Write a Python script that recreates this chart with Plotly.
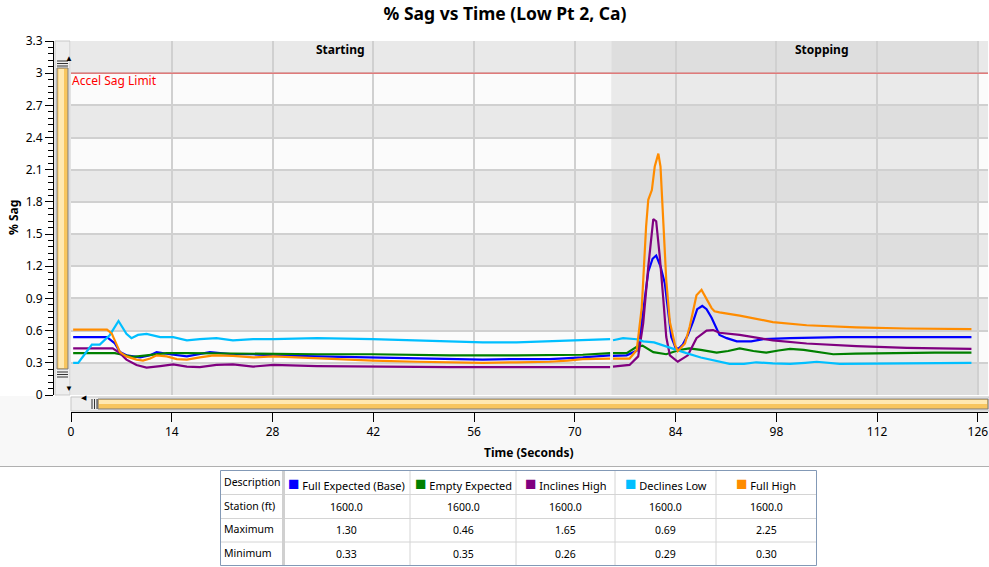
import plotly.graph_objects as go

# ---------------- data ----------------
series_names = ["Full Expected (Base)", "Empty Expected", "Inclines High", "Declines Low", "Full High"]
series_colors = ["#0000ff", "#008000", "#800080", "#00bfff", "#ff8c00"]

full_exp_start_t = [0.3, 5.0, 6.1, 6.8, 7.7, 9.6, 11.0, 11.9, 13.75, 16.1, 19.3, 22.5, 25.3, 28.1, 34.2, 41.9, 48.1, 52.6, 57.2, 61.9, 66.5, 71.1, 73.5, 74.9]
full_exp_start_v = [0.54, 0.54, 0.48, 0.40, 0.37, 0.35, 0.37, 0.40, 0.38, 0.36, 0.40, 0.38, 0.38, 0.37, 0.36, 0.35, 0.345, 0.335, 0.33, 0.335, 0.335, 0.35, 0.36, 0.37]
full_exp_stop_t = [75.3, 77.2, 78.8, 79.5, 80.2, 80.8, 81.3, 81.9, 82.5, 83.0, 83.4, 84.0, 84.4, 85.0, 85.7, 86.4, 87.0, 87.7, 88.3, 89.0, 89.7, 90.1, 91.1, 92.5, 94.5, 96.2, 99.9, 106.8, 116.0, 125.1]
full_exp_stop_v = [0.365, 0.37, 0.42, 0.80, 1.15, 1.27, 1.30, 1.20, 1.04, 0.76, 0.54, 0.44, 0.43, 0.47, 0.56, 0.68, 0.80, 0.83, 0.80, 0.72, 0.62, 0.56, 0.53, 0.50, 0.50, 0.52, 0.53, 0.54, 0.54, 0.54]

empty_exp_start_t = [0.3, 6.1, 6.8, 8.6, 10.5, 13.3, 16.0, 22.0, 28.1, 34.2, 41.9, 52.6, 61.9, 71.1, 74.9]
empty_exp_start_v = [0.39, 0.39, 0.38, 0.355, 0.37, 0.39, 0.39, 0.385, 0.38, 0.38, 0.38, 0.37, 0.37, 0.375, 0.39]
empty_exp_stop_t = [75.3, 77.2, 78.6, 79.4, 80.9, 82.7, 84.5, 85.9, 87.5, 89.7, 91.3, 92.9, 94.8, 96.6, 98.3, 99.9, 101.8, 103.6, 105.9, 109.0, 113.75, 120.0, 125.1]
empty_exp_stop_v = [0.39, 0.39, 0.45, 0.46, 0.40, 0.38, 0.42, 0.435, 0.42, 0.395, 0.41, 0.435, 0.41, 0.395, 0.415, 0.43, 0.42, 0.405, 0.38, 0.385, 0.39, 0.395, 0.395]

incl_high_start_t = [0.3, 5.8, 6.8, 7.7, 9.1, 10.5, 12.4, 14.2, 16.1, 17.9, 20.2, 22.5, 25.3, 28.1, 34.2, 41.9, 52.6, 61.9, 71.1, 74.9]
incl_high_start_v = [0.435, 0.435, 0.39, 0.33, 0.28, 0.255, 0.27, 0.285, 0.265, 0.26, 0.28, 0.285, 0.265, 0.28, 0.27, 0.265, 0.26, 0.26, 0.26, 0.26]
incl_high_stop_t = [75.3, 77.6, 78.8, 79.5, 80.2, 80.9, 81.3, 81.8, 82.3, 82.7, 83.2, 84.3, 85.7, 86.9, 88.3, 89.2, 90.1, 92.9, 97.5, 102.2, 109.1, 116.1, 125.1]
incl_high_stop_v = [0.265, 0.28, 0.36, 0.67, 1.195, 1.64, 1.62, 1.29, 0.885, 0.54, 0.37, 0.31, 0.37, 0.53, 0.60, 0.605, 0.58, 0.56, 0.51, 0.48, 0.455, 0.44, 0.43]

decl_low_start_t = [0.3, 1.0, 1.9, 2.9, 4.0, 5.4, 6.6, 7.0, 7.7, 8.4, 9.3, 10.5, 12.4, 14.2, 16.1, 17.9, 20.2, 22.5, 25.3, 28.1, 34.2, 41.9, 47.0, 52.6, 57.2, 61.9, 66.5, 71.1, 74.9]
decl_low_start_v = [0.30, 0.30, 0.38, 0.47, 0.47, 0.56, 0.69, 0.65, 0.57, 0.53, 0.56, 0.57, 0.54, 0.54, 0.51, 0.52, 0.53, 0.51, 0.52, 0.52, 0.53, 0.52, 0.51, 0.50, 0.49, 0.49, 0.50, 0.51, 0.52]
decl_low_stop_t = [75.3, 76.7, 78.6, 79.5, 81.0, 82.7, 85.5, 87.5, 90.1, 91.5, 93.5, 95.2, 97.5, 99.9, 102.0, 103.6, 106.8, 113.75, 125.1]
decl_low_stop_v = [0.51, 0.53, 0.52, 0.50, 0.49, 0.45, 0.39, 0.35, 0.31, 0.29, 0.29, 0.305, 0.295, 0.29, 0.30, 0.31, 0.29, 0.295, 0.30]

full_high_start_t = [0.3, 5.0, 5.65, 6.1, 6.8, 7.7, 9.1, 10.0, 11.0, 11.9, 13.3, 14.7, 16.1, 17.9, 19.8, 22.5, 25.3, 28.1, 34.2, 41.9, 48.1, 52.6, 57.2, 61.9, 66.5, 69.0, 71.1, 74.9]
full_high_start_v = [0.61, 0.61, 0.575, 0.50, 0.40, 0.36, 0.33, 0.32, 0.34, 0.37, 0.36, 0.335, 0.33, 0.35, 0.37, 0.365, 0.35, 0.36, 0.34, 0.32, 0.31, 0.305, 0.30, 0.305, 0.31, 0.32, 0.335, 0.34]
full_high_stop_t = [75.3, 77.6, 78.6, 79.3, 79.9, 80.2, 80.7, 81.1, 81.6, 81.9, 82.3, 82.7, 83.2, 83.9, 84.3, 85.3, 85.97, 86.9, 87.6, 88.3, 89.0, 89.4, 90.1, 92.9, 97.5, 102.2, 109.1, 116.1, 125.1]
full_high_stop_v = [0.34, 0.34, 0.42, 0.82, 1.57, 1.82, 1.91, 2.13, 2.25, 2.13, 1.60, 1.07, 0.68, 0.47, 0.41, 0.48, 0.64, 0.93, 0.98, 0.90, 0.81, 0.78, 0.77, 0.74, 0.68, 0.65, 0.63, 0.62, 0.615]

series_t = [
    full_exp_start_t + [None] + full_exp_stop_t,
    empty_exp_start_t + [None] + empty_exp_stop_t,
    incl_high_start_t + [None] + incl_high_stop_t,
    decl_low_start_t + [None] + decl_low_stop_t,
    full_high_start_t + [None] + full_high_stop_t,
]
series_v = [
    full_exp_start_v + [None] + full_exp_stop_v,
    empty_exp_start_v + [None] + empty_exp_stop_v,
    incl_high_start_v + [None] + incl_high_stop_v,
    decl_low_start_v + [None] + decl_low_stop_v,
    full_high_start_v + [None] + full_high_stop_v,
]

phase_names = ["Starting", "Stopping"]
phase_start = [0.0, 75.1]
phase_end = [75.1, 126.0]
phase_label_t = [37.5, 104.2]

accel_sag_limit = 3.0
x_ticks = [0, 14, 28, 42, 56, 70, 84, 98, 112, 126]
y_band_step = 0.3
y_max = 3.3
x_max = 127.4

table_rows = ["Station (ft)", "Maximum", "Minimum"]
stations = [1600.0, 1600.0, 1600.0, 1600.0, 1600.0]
maxima = [1.30, 0.46, 1.65, 0.69, 2.25]
minima = [0.33, 0.35, 0.26, 0.29, 0.30]

# ---------------- layout helpers ----------------
W, H = 989, 567
ML, MR, MT, MB = 53, 1, 41, 0
PW, PH = W - ML - MR, H - MT - MB


def pxx(px):
    return (px - ML) / PW


def pxy(py):
    return (H - MB - py) / PH


FONT = "Noto Sans"

fig = go.Figure()

for name, color, t, v in zip(series_names, series_colors, series_t, series_v):
    fig.add_trace(go.Scatter(x=t, y=v, mode="lines", name=name,
                             line=dict(color=color, width=2.2), connectgaps=False,
                             showlegend=False))

shapes = []
# background bands
n_bands = int(round(y_max / y_band_step))
band_colors = {0: ("#e9e9e9", "#fbfbfb"), 1: ("#dedede", "#eaeaea")}
regions = [(phase_start[0], phase_end[0], 0), (phase_start[1], phase_end[1], 1), (phase_end[1], x_max, 0)]
for x0, x1, kind in regions:
    for k in range(n_bands):
        col = band_colors[kind][0] if k % 2 == 0 else band_colors[kind][1]
        shapes.append(dict(type="rect", xref="x", yref="y", x0=x0, x1=x1,
                           y0=k * y_band_step, y1=(k + 1) * y_band_step,
                           fillcolor=col, line=dict(width=0), layer="below"))

# sag limit line
shapes.append(dict(type="line", xref="paper", yref="y", x0=pxx(71), x1=pxx(988),
                   y0=accel_sag_limit, y1=accel_sag_limit,
                   line=dict(color="#e07a7a", width=1.5)))

# light gray area under plot
shapes.append(dict(type="rect", xref="paper", yref="paper", x0=pxx(0), x1=pxx(989),
                   y0=pxy(466), y1=pxy(396), fillcolor="#f8f8f8", line=dict(width=0), layer="below"))
shapes.append(dict(type="line", xref="paper", yref="paper", x0=pxx(0), x1=pxx(989),
                   y0=pxy(466.5), y1=pxy(466.5), line=dict(color="#b0b0b0", width=1)))

# vertical scrollbar
shapes += [
    dict(type="rect", xref="paper", yref="paper", x0=pxx(55), x1=pxx(70), y0=pxy(395), y1=pxy(41),
         fillcolor="#eeeeee", line=dict(color="#c8c8c8", width=1)),
    dict(type="rect", xref="paper", yref="paper", x0=pxx(57), x1=pxx(68), y0=pxy(369), y1=pxy(68),
         fillcolor="#f8c65e", line=dict(color="#7a7a7a", width=1)),
    dict(type="rect", xref="paper", yref="paper", x0=pxx(58.5), x1=pxx(64), y0=pxy(368), y1=pxy(69),
         fillcolor="#ffe9b2", line=dict(width=0)),
]
for gy in [61, 63.5, 66, 372, 374.5, 377]:
    shapes.append(dict(type="line", xref="paper", yref="paper", x0=pxx(57), x1=pxx(68), y0=pxy(gy), y1=pxy(gy),
                       line=dict(color="#333333", width=1)))
# horizontal scrollbar
shapes += [
    dict(type="rect", xref="paper", yref="paper", x0=pxx(71), x1=pxx(989), y0=pxy(411), y1=pxy(397),
         fillcolor="#eeeeee", line=dict(color="#c8c8c8", width=1)),
    dict(type="rect", xref="paper", yref="paper", x0=pxx(98), x1=pxx(988), y0=pxy(409), y1=pxy(399),
         fillcolor="#f8c65e", line=dict(color="#7a7a7a", width=1)),
    dict(type="rect", xref="paper", yref="paper", x0=pxx(99), x1=pxx(987), y0=pxy(404), y1=pxy(400),
         fillcolor="#ffe9b2", line=dict(width=0)),
]
for gx in [92, 94.5, 97]:
    shapes.append(dict(type="line", xref="paper", yref="paper", x0=pxx(gx), x1=pxx(gx), y0=pxy(399), y1=pxy(409),
                       line=dict(color="#333333", width=1)))

annotations = [
    dict(text="% Sag", xref="paper", yref="paper", x=pxx(13), y=pxy(218), textangle=-90, showarrow=False,
         font=dict(family=FONT, size=12, color="black", weight="bold"), xanchor="center", yanchor="middle"),
    dict(text="Time (Seconds)", xref="paper", yref="paper", x=pxx(529), y=pxy(452), showarrow=False,
         font=dict(family=FONT, size=12, color="black", weight="bold"), xanchor="center", yanchor="middle"),
    dict(text="Accel Sag Limit", xref="x", yref="y", x=0, y=accel_sag_limit, showarrow=False,
         xanchor="left", yanchor="top", xshift=-1, yshift=3,
         font=dict(family=FONT, size=12, color="#ff0000")),
    dict(text="▲", xref="paper", yref="paper", x=pxx(62.5), y=pxy(50), showarrow=False,
         font=dict(size=8, color="black")),
    dict(text="▼", xref="paper", yref="paper", x=pxx(62.5), y=pxy(387), showarrow=False,
         font=dict(size=8, color="black")),
    dict(text="◀", xref="paper", yref="paper", x=pxx(79), y=pxy(404), showarrow=False,
         font=dict(size=7, color="black")),
]
for nm, lt in zip(phase_names, phase_label_t):
    annotations.append(dict(text=nm, xref="x", yref="y", x=lt, y=y_max, showarrow=False,
                            xanchor="center", yanchor="top", yshift=2,
                            font=dict(family=FONT, size=12, color="black", weight="bold")))

# ---------------- summary table (grid + text) ----------------
col_edges = [220.5, 283.5, 410, 516, 615, 716, 816.5]   # pixel layout of the table
row_edges = [470.5, 494.5, 518.5, 542, 565.5]
TF = dict(family=FONT, size=10.5, color="black")
HF = dict(family=FONT, size=11, color="black")

for ry in row_edges[1:-1]:
    shapes.append(dict(type="line", xref="paper", yref="paper", x0=pxx(col_edges[0]), x1=pxx(col_edges[-1]),
                       y0=pxy(ry), y1=pxy(ry), line=dict(color="#d4d4d4", width=1)))
for cx in col_edges[2:-1]:
    shapes.append(dict(type="line", xref="paper", yref="paper", x0=pxx(cx), x1=pxx(cx),
                       y0=pxy(row_edges[0]), y1=pxy(row_edges[-1]), line=dict(color="#d4d4d4", width=1)))
shapes.append(dict(type="line", xref="paper", yref="paper", x0=pxx(col_edges[1]), x1=pxx(col_edges[1]),
                   y0=pxy(row_edges[0]), y1=pxy(row_edges[-1]), line=dict(color="#d0d0d0", width=3)))
shapes.append(dict(type="rect", xref="paper", yref="paper", x0=pxx(col_edges[0]), x1=pxx(col_edges[-1]),
                   y0=pxy(row_edges[-1]), y1=pxy(row_edges[0]),
                   line=dict(color="#8399b6", width=1), fillcolor="rgba(0,0,0,0)"))

row_centers = [(a + b) / 2 for a, b in zip(row_edges[:-1], row_edges[1:])]
col_centers = [(a + b) / 2 for a, b in zip(col_edges[:-1], col_edges[1:])]

# header row
annotations.append(dict(text="Description", xref="paper", yref="paper", x=pxx(col_edges[0] + 1.5),
                        y=pxy(row_centers[0] - 1), xanchor="left", yanchor="middle", showarrow=False, font=TF))
for j, (nm, c) in enumerate(zip(series_names, series_colors)):
    annotations.append(dict(
        text=f'<span style="color:{c};font-size:19px">■</span> {nm}',
        xref="paper", yref="paper", x=pxx(col_centers[j + 1]), y=pxy(row_centers[0]),
        xanchor="center", yanchor="middle", showarrow=False, font=HF))

# body rows
body_cols = [[f"{s:.1f}", f"{mx:.2f}", f"{mn:.2f}"] for s, mx, mn in zip(stations, maxima, minima)]
for i, rname in enumerate(table_rows):
    annotations.append(dict(text=rname, xref="paper", yref="paper", x=pxx(col_edges[0] + 1.5),
                            y=pxy(row_centers[i + 1] - 1), xanchor="left", yanchor="middle",
                            showarrow=False, font=TF))
    for j, colvals in enumerate(body_cols):
        annotations.append(dict(text=colvals[i], xref="paper", yref="paper", x=pxx(col_centers[j + 1]),
                                y=pxy(row_centers[i + 1]), xanchor="center", yanchor="middle",
                                showarrow=False, font=TF))

fig.update_layout(
    width=W, height=H,
    margin=dict(l=ML, r=MR, t=MT, b=MB, pad=0, autoexpand=False),
    paper_bgcolor="white", plot_bgcolor="#e9e9e9",
    font=dict(family=FONT, size=12, color="black"),
    title=dict(text="<b>% Sag vs Time (Low Pt 2, Ca)</b>", x=505 / W, xref="container", xanchor="center",
               y=1 - 14 / H, yref="container", yanchor="middle",
               font=dict(family=FONT, size=17.5, color="black")),
    shapes=shapes, annotations=annotations, showlegend=False,
    xaxis=dict(range=[0, x_max], domain=[pxx(71), 1], anchor="free", position=pxy(412), automargin=False,
               tickmode="array", tickvals=x_ticks, ticks="outside", ticklen=9, tickcolor="black",
               showline=True, linecolor="black", linewidth=1, showgrid=True, gridcolor="#d0d0d0",
               gridwidth=2, zeroline=False, tickfont=dict(family=FONT, size=12, color="black")),
    yaxis=dict(range=[0, y_max], domain=[pxy(395), 1], anchor="free", position=0, automargin=False,
               tick0=0, dtick=y_band_step, ticks="outside", ticklen=8, tickcolor="black",
               showline=True, linecolor="black", linewidth=1, showgrid=True, gridcolor="#d0d0d0",
               gridwidth=2, zeroline=False, tickfont=dict(family=FONT, size=12, color="black"),
               minor=dict(dtick=0.06, tick0=0, ticks="outside", ticklen=5, tickcolor="black", showgrid=False)),
)

fig.write_html("out.html")
